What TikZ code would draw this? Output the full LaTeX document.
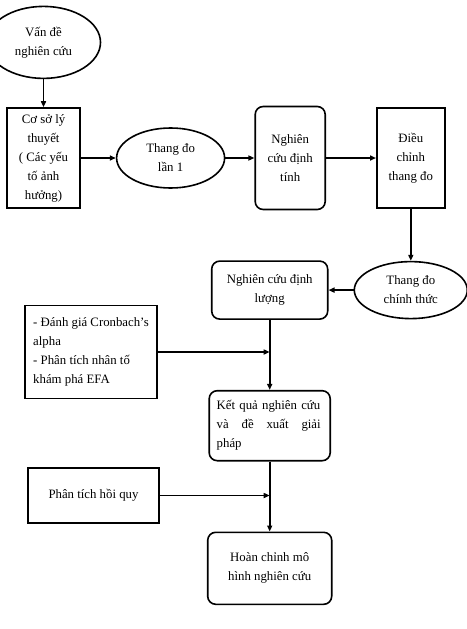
\documentclass[tikz,border=0pt]{standalone}
\usepackage{fontspec}
\setmainfont{Liberation Serif}
\usepackage{tikz}
\usetikzlibrary{positioning,arrows.meta,shapes.geometric}

\begin{document}
\begin{tikzpicture}[x=1pt,y=1pt,line width=1.6pt,
    every node/.style={font=\fontsize{12.8}{19}\selectfont},
    oval/.style={ellipse,draw,inner sep=0pt,align=center},
    hop/.style={rectangle,draw,inner sep=2pt,align=center},
    tron/.style={rectangle,draw,rounded corners=8pt,inner sep=2pt,align=center},
    muiten/.style={-{Triangle[length=6pt,width=5pt]}}]
    \useasboundingbox (0,0) rectangle (466,-629) ;
    % hang tren
    \node[hop,minimum width=73pt,minimum height=100pt] (csl) at (43.5,-158) {Cơ sở lý\\thuyết\\( Các yếu\\tố ảnh\\hưởng)} ;
    \node[oval,minimum width=114pt,minimum height=72pt,above=28pt of csl] (vande) {Vấn đề\\nghiên cứu} ;
    \node[oval,minimum width=108pt,minimum height=60pt,right=35pt of csl] (td1) {Thang đo\\lần 1} ;
    \node[tron,minimum width=70pt,minimum height=103pt,right=29pt of td1] (dinhtinh) {Nghiên\\cứu định\\tính} ;
    \node[hop,minimum width=68pt,minimum height=100pt,right=50pt of dinhtinh] (dieuchinh) {Điều\\chỉnh\\thang đo} ;
    % hang duoi
    \node[oval,minimum width=113pt,minimum height=57pt,below=52pt of dieuchinh] (tdct) {Thang đo\\chính thức} ;
    \node[tron,minimum width=116pt,minimum height=58pt,left=25pt of tdct] (dinhluong) {Nghiên cứu định\\lượng} ;
    \node[tron,text width=106pt,align=left,minimum width=121pt,minimum height=70pt,below=70pt of dinhluong] (ketqua) {Kết quả nghiên cứu\\\makebox[104pt][s]{và\hfill đề\hfill xuất\hfill giải}\\pháp} ;
    \node[tron,minimum width=124pt,minimum height=72pt,below=70pt of ketqua] (hoanchinh) {Hoàn chỉnh mô\\hình nghiên cứu} ;
    \node[hop,align=left,minimum width=132pt,minimum height=93pt] (danhgia) at (91,-352) {- Đánh giá Cronbach’s\\alpha\\- Phân tích nhân tố\\khám phá EFA} ;
    \node[hop,minimum width=131pt,minimum height=55pt] (hoiquy) at (93.5,-495.5) {Phân tích hồi quy} ;
    \coordinate (n1) at (dinhluong.south |- danhgia.east) ;
    \coordinate (n2) at (ketqua.south |- hoiquy.east) ;
    \draw[muiten] (vande) -- (csl) ;
    \draw[muiten] (csl) -- (td1) ;
    \draw[muiten] (td1) -- (dinhtinh) ;
    \draw[muiten] (dinhtinh) -- (dieuchinh) ;
    \draw[muiten] (dieuchinh) -- (tdct) ;
    \draw[muiten] (tdct) -- (dinhluong) ;
    \draw[muiten] (dinhluong) -- (ketqua) ;
    \draw[muiten] (danhgia) -- (n1) ;
    \draw[muiten] (ketqua) -- (hoanchinh) ;
    \draw[muiten] (hoiquy) -- (n2) ;
\end{tikzpicture}
\end{document}
